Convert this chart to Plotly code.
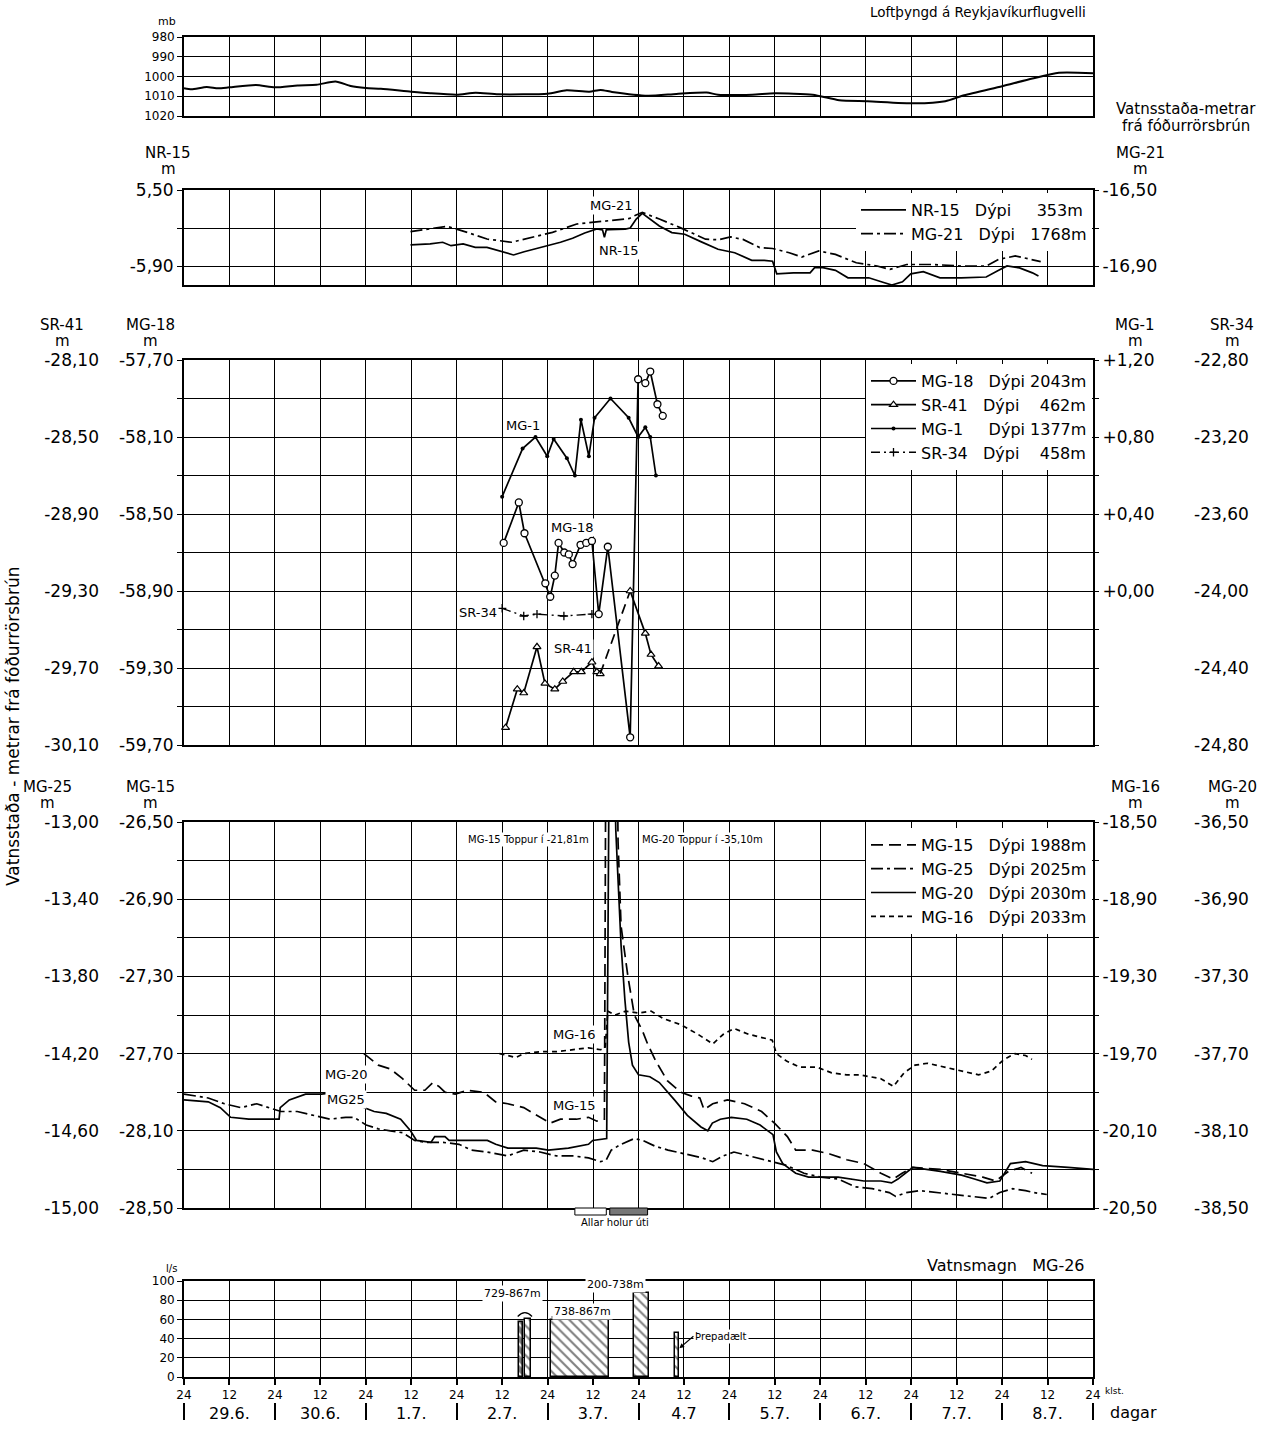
import plotly.graph_objects as go

W, H = 1275, 1429
FONT = "DejaVu Sans, Roboto, Arial, sans-serif"

# ---------------- time axis ----------------
HOUR_TICKS = [0, 12, 24, 36, 48, 60, 72, 84, 96, 108, 120, 132, 144, 156, 168, 180, 192, 204, 216, 228, 240]
HOUR_LABELS = ["24", "12", "24", "12", "24", "12", "24", "12", "24", "12", "24",
               "12", "24", "12", "24", "12", "24", "12", "24", "12", "24"]
DAY_MIDS = [12, 36, 60, 84, 108, 132, 156, 180, 204, 228]
DAY_LABELS = ["29.6.", "30.6.", "1.7.", "2.7.", "3.7.", "4.7", "5.7.", "6.7.", "7.7.", "8.7."]
DAY_EDGES = [0, 24, 48, 72, 96, 120, 144, 168, 192, 216, 240]

# ---------------- panel 1: air pressure ----------------
PRESS_TICKS = [980, 990, 1000, 1010, 1020]
PRESS_LABELS = ["980", "990", "1000", "1010", "1020"]
PRESS_H = [0, 2, 6, 9, 12, 19, 24, 30, 35, 40, 44, 48, 52, 60, 65, 72, 77, 83, 96, 101,
           107, 110, 113, 122.5, 130, 138, 141, 150, 156, 166, 173, 180.5, 193, 201, 206,
           216, 224, 231, 240]
PRESS_MB = [1006, 1006.5, 1005.3, 1006, 1005.5, 1004.3, 1005.5, 1004.5, 1004.2, 1002.5,
            1004.8, 1005.8, 1006.2, 1007.7, 1008.5, 1009.2, 1008.2, 1009, 1008.7, 1007,
            1007.7, 1006.8, 1007.8, 1009.7, 1008.8, 1008.1, 1009.2, 1009.2, 1008.5, 1009.2,
            1012, 1012.5, 1013.6, 1012.5, 1009.5, 1004.9, 1001, 998.1, 998.3]

# ---------------- panel 2: NR-15 / MG-21 ----------------
NR15_TICKS = [-5.5, -5.7, -5.9]
NR15_LABELS = ["5,50", "", "-5,90"]
MG21_TICKS = [-16.5, -16.7, -16.9]
MG21_LABELS = ["-16,50", "", "-16,90"]
NR15_H = [59.8, 65, 68.3, 70.5, 73.7, 76.9, 80, 83.3, 87, 89.8,
          91.9, 95, 99.4, 102.6, 105.8, 109, 110.5, 111, 111.5, 112.2,
          116.5, 117.8, 119.4, 121, 122.8, 125.5, 128.8, 132.2, 136.6, 141,
          145.4, 149.9, 153.2, 155.4, 156.5, 160.9, 165.3, 166.5, 168.7, 172,
          175.3, 180.8, 184.1, 186.9, 189.7, 191.9, 195.2, 199.6, 205.2, 211.8,
          215.1, 217.3, 220.6, 224, 225.6]
NR15_M = [-5.789, -5.784, -5.775, -5.793, -5.784, -5.802, -5.802, -5.819, -5.842, -5.825,
          -5.814, -5.80, -5.775, -5.754, -5.726, -5.705, -5.71, -5.749, -5.71, -5.709,
          -5.706, -5.70, -5.653, -5.623, -5.648, -5.689, -5.724, -5.733, -5.773, -5.812,
          -5.830, -5.870, -5.870, -5.875, -5.941, -5.936, -5.936, -5.909, -5.909, -5.923,
          -5.962, -5.962, -5.983, -6.0, -5.983, -5.941, -5.930, -5.962, -5.962, -5.958,
          -5.923, -5.90, -5.91, -5.936, -5.953]
MG21_H = [59.8, 65, 69.4, 74.8, 80, 86.5, 91.9, 97.3, 103.7, 109,
          113.3, 117.6, 118.9, 121, 125.5, 131, 137.7, 141, 144.3, 147.6,
          152, 155.4, 159.8, 163.1, 167.6, 172, 177.5, 183, 186.4, 190.8,
          197.4, 205.2, 211.8, 215.1, 219.5, 224, 226.2]
MG21_M = [-16.719, -16.702, -16.691, -16.723, -16.758, -16.775, -16.749, -16.723, -16.679, -16.667,
          -16.656, -16.65, -16.636, -16.618, -16.653, -16.698, -16.759, -16.762, -16.747, -16.76,
          -16.803, -16.808, -16.830, -16.853, -16.821, -16.839, -16.883, -16.90, -16.918, -16.892,
          -16.892, -16.90, -16.90, -16.865, -16.847, -16.865, -16.877]

# ---------------- panel 3: MG-18 / SR-41 / MG-1 / SR-34 ----------------
MG18_TICKS = [-57.7, -57.9, -58.1, -58.3, -58.5, -58.7, -58.9, -59.1, -59.3, -59.5, -59.7]
MG18_LABELS = ["-57,70", "", "-58,10", "", "-58,50", "", "-58,90", "", "-59,30", "", "-59,70"]
SR41_TICKS = [-28.1, -28.5, -28.9, -29.3, -29.7, -30.1]
SR41_LABELS = ["-28,10", "-28,50", "-28,90", "-29,30", "-29,70", "-30,10"]
MG1_TICKS = [1.2, 1.0, 0.8, 0.6, 0.4, 0.2, 0.0, -0.2, -0.4, -0.6, -0.8]
MG1_LABELS = ["+1,20", "", "+0,80", "", "+0,40", "", "+0,00", "", "", "", ""]
SR34_TICKS = [-22.8, -23.2, -23.6, -24.0, -24.4, -24.8]
SR34_LABELS = ["-22,80", "-23,20", "-23,60", "-24,00", "-24,40", "-24,80"]

MG18_H = [84.4, 88.4, 89.9, 95.4, 96.7, 97.9, 98.9, 100.4, 101.6, 102.6, 104.7,
          106.2, 107.7, 109.5, 111.9, 117.8, 119.9, 121.8, 123.1, 125.0, 126.4]
MG18_M = [-58.65, -58.44, -58.60, -58.86, -58.93, -58.82, -58.65, -58.70, -58.71, -58.76, -58.66,
          -58.65, -58.64, -59.02, -58.67, -59.66, -57.80, -57.82, -57.76, -57.93, -57.99]
SR41_H = [84.9, 88, 89.7, 93.2, 95.3, 97.9, 100, 102.9, 104.9, 107.7, 109, 109.9,
          117.8, 121.8, 123.3, 125.3]
SR41_M = [-30.01, -29.81, -29.83, -29.59, -29.78, -29.81, -29.77, -29.72, -29.72, -29.67, -29.72,
          -29.73, -29.30, -29.52, -29.63, -29.69]
MG1_H = [84, 89.4, 92.8, 95.9, 97.6, 101.1, 103.2, 104.8, 106.9, 108.4, 112.6, 117.4,
         119.9, 121.8, 123.1, 124.6]
MG1_M = [0.49, 0.74, 0.80, 0.70, 0.79, 0.69, 0.60, 0.89, 0.70, 0.90, 1.00, 0.90,
         0.80, 0.85, 0.80, 0.60]
SR34_H = [84, 89.7, 93.2, 100.3, 107.7]
SR34_M = [-24.09, -24.13, -24.12, -24.13, -24.12]

# ---------------- panel 4: MG-15 / MG-25 / MG-20 / MG-16 ----------------
MG15_TICKS = [-26.5, -26.7, -26.9, -27.1, -27.3, -27.5, -27.7, -27.9, -28.1, -28.3, -28.5]
MG15_LABELS = ["-26,50", "", "-26,90", "", "-27,30", "", "-27,70", "", "-28,10", "", "-28,50"]
MG25_TICKS = [-13.0, -13.4, -13.8, -14.2, -14.6, -15.0]
MG25_LABELS = ["-13,00", "-13,40", "-13,80", "-14,20", "-14,60", "-15,00"]
MG16_TICKS = [-18.5, -18.7, -18.9, -19.1, -19.3, -19.5, -19.7, -19.9, -20.1, -20.3, -20.5]
MG16_LABELS = ["-18,50", "", "-18,90", "", "-19,30", "", "-19,70", "", "-20,10", "", "-20,50"]
MG20_TICKS = [-36.5, -36.9, -37.3, -37.7, -38.1, -38.5]
MG20_LABELS = ["-36,50", "-36,90", "-37,30", "-37,70", "-38,10", "-38,50"]

MG15_H = [47.5, 51.3, 54.5, 57.7, 60.9, 63.6, 65.7, 67.3, 68.9, 71.6, 74.8, 79.1, 82.3,
          85.5, 89.7, 94, 96.7, 99.4, 103.6, 106.8, 109, 110.3, 111.0,
          112.2,
          114.6, 115.4, 117.2, 118.9, 121.0, 122.4, 124.6, 127.6, 131.1, 134.0,
          136.2, 137.3, 139.6, 143.5, 148.0, 152.5, 155.9, 159.3, 161.5, 166.0,
          170.5, 175.0, 179.5, 184.0, 187.3, 189.6, 192.4, 199.7, 205.3, 210.9,
          214.3, 217.7, 221.0, 223.9]
MG15_M = [-27.70, -27.76, -27.78, -27.83, -27.89, -27.89, -27.85, -27.87, -27.90, -27.91, -27.89,
          -27.90, -27.95, -27.96, -27.98, -28.03, -28.06, -28.04, -28.04, -28.03, -28.05, -28.04, -28.04,
          -21.81,
          -26.60, -27.04, -27.30, -27.50, -27.58, -27.65, -27.74, -27.84, -27.90, -27.92,
          -27.93, -27.99, -27.96, -27.94, -27.96, -28.00, -28.06, -28.13, -28.20, -28.20,
          -28.22, -28.25, -28.27, -28.32, -28.35, -28.32, -28.29, -28.30, -28.32, -28.34,
          -28.36, -28.31, -28.29, -28.32]

MG25_H = [0, 6.4, 10.7, 15, 19.2, 22.4, 25.6, 29.9, 34.2, 38.5,
          42.7, 44.9, 48.1, 51.3, 54.5, 57.7, 60.9, 64.1, 68.4, 72.6,
          75.9, 80.1, 85.5, 89.7, 94, 98.3, 102.6, 106.8, 110, 111.5,
          112.8, 115.4, 118.9, 121.1, 124.4, 127.8, 132.3, 136.8, 139.6, 142.4,
          145.2, 149.1, 154.8, 159.2, 163.7, 168.2, 172.7, 177.2, 181.7, 186.2,
          187.9, 190.7, 194.1, 198.6, 203.1, 208.7, 212.6, 215.4, 218.8, 222.2,
          224.4, 227.8]
MG25_M = [-14.41, -14.43, -14.46, -14.48, -14.46, -14.48, -14.50, -14.50, -14.52, -14.54,
          -14.53, -14.53, -14.57, -14.59, -14.60, -14.61, -14.65, -14.66, -14.66, -14.67,
          -14.70, -14.71, -14.73, -14.70, -14.71, -14.73, -14.73, -14.74, -14.76, -14.75,
          -14.70, -14.67, -14.64, -14.65, -14.68, -14.70, -14.72, -14.74, -14.76, -14.73,
          -14.71, -14.73, -14.76, -14.78, -14.82, -14.84, -14.85, -14.89, -14.90, -14.92,
          -14.94, -14.92, -14.91, -14.92, -14.93, -14.94, -14.95, -14.92, -14.90, -14.91,
          -14.92, -14.93]

MG20_H = [0, 6.4, 9.6, 12.3, 17.1, 25.1, 25.4, 27.8, 32.1, 36.3,
          40.6, 43.8, 47.5, 50.2, 53.4, 57.2, 59.8, 61.4, 65.2, 66.2,
          68.9, 70.0, 73.7, 80.1, 82.3, 85.5, 93.0, 96.2, 101.5, 106.8,
          107.9, 111.6,
          112.6,
          114.0, 114.6, 115.4, 116.4, 117.4, 118.4, 120.0, 123.0, 125.5, 129.5,
          132.9, 136.5, 138.3, 139.5, 141.6, 144.5, 148.6, 152.1, 154.0, 155.5,
          156.4, 158.1, 161.5, 164.9, 172.7, 179.5, 184.0, 186.8, 188.5, 192.4,
          199.7, 205.3, 208.7, 212.0, 215.4, 218.2, 222.2, 226.7, 233.4, 240]
MG20_M = [-37.94, -37.95, -37.98, -38.03, -38.04, -38.04, -37.98, -37.94, -37.91, -37.91,
          -37.90, -37.90, -37.98, -38.00, -38.01, -38.04, -38.10, -38.15, -38.16, -38.13,
          -38.13, -38.15, -38.15, -38.15, -38.17, -38.19, -38.19, -38.20, -38.19, -38.17,
          -38.15, -38.14,
          -35.10,
          -36.54, -36.80, -37.14, -37.42, -37.64, -37.76, -37.81, -37.82, -37.85, -37.94,
          -38.02, -38.08, -38.10, -38.06, -38.04, -38.03, -38.04, -38.07, -38.10, -38.12,
          -38.21, -38.27, -38.32, -38.34, -38.34, -38.36, -38.36, -38.37, -38.35, -38.29,
          -38.31, -38.33, -38.35, -38.37, -38.36, -38.27, -38.26, -38.28, -38.29, -38.30]

MG16_H = [83.3, 87.6, 89.7, 94.0, 98.3, 102.6, 106.8, 110.0, 111.2, 111.9,
          113.8, 116.6, 120.0, 123.3, 126.7, 131.2, 135.7, 139.6, 142.4, 145.2,
          149.1, 155.3, 156.4, 159.2, 162.6, 167.1, 171.0, 175.0, 178.3, 184.0,
          187.3, 190.1, 193.0, 196.3, 200.8, 205.3, 209.8, 213.2, 216.5, 219.4,
          222.2, 223.9]
MG16_M = [-19.70, -19.72, -19.70, -19.69, -19.69, -19.68, -19.67, -19.68, -19.67, -19.48,
          -19.50, -19.48, -19.49, -19.48, -19.52, -19.55, -19.60, -19.65, -19.60, -19.57,
          -19.60, -19.63, -19.70, -19.74, -19.77, -19.77, -19.80, -19.81, -19.81, -19.83,
          -19.87, -19.80, -19.76, -19.75, -19.77, -19.79, -19.81, -19.79, -19.73, -19.70,
          -19.71, -19.73]

# ---------------- panel 5: flow MG-26 ----------------
FLOW_TICKS = [0, 20, 40, 60, 80, 100]
FLOW_LABELS = ["0", "20", "40", "60", "80", "100"]
FLOW_START = [88.4, 89.9, 97.0, 118.7, 129.6]
FLOW_END = [89.6, 91.6, 112.1, 122.8, 130.8]
FLOW_LPS = [57, 60, 59, 88, 46]

# ---------------- styles ----------------
BAR_SOLIDITY = [0.75, 0.3, 0.3, 0.3, 0.3]
LINE_W = 1.7
TICKFONT = dict(family=FONT, size=17, color="black")


def px_x(x):
    return x / W


def px_y(y):
    return 1 - y / H


XDOM = [px_x(184), px_x(1093)]

fig = go.Figure()

# panel 1
fig.add_trace(go.Scatter(x=PRESS_H, y=PRESS_MB, mode="lines", xaxis="x", yaxis="y",
                         line=dict(color="black", width=2, shape="spline", smoothing=0.6),
                         showlegend=False))

# panel 2
fig.add_trace(go.Scatter(x=NR15_H, y=NR15_M, mode="lines", xaxis="x2", yaxis="y2",
                         name="NR-15\u00a0\u00a0\u00a0Dýpi\u00a0\u00a0\u00a0\u00a0\u00a0353m",
                         legend="legend", line=dict(color="black", width=LINE_W)))
fig.add_trace(go.Scatter(x=MG21_H, y=MG21_M, mode="lines", xaxis="x2", yaxis="y6",
                         name="MG-21\u00a0\u00a0\u00a0Dýpi\u00a0\u00a0\u00a01768m",
                         legend="legend",
                         line=dict(color="black", width=LINE_W, dash="12px,4px,3px,4px")))

# panel 3
fig.add_trace(go.Scatter(x=MG18_H, y=MG18_M, mode="lines+markers", xaxis="x3", yaxis="y3",
                         name="MG-18\u00a0\u00a0\u00a0Dýpi\u00a02043m", legend="legend2",
                         line=dict(color="black", width=LINE_W),
                         marker=dict(symbol="circle", size=7, color="white",
                                     line=dict(color="black", width=1.3))))
fig.add_trace(go.Scatter(x=SR41_H[:12], y=SR41_M[:12], mode="lines+markers", xaxis="x3", yaxis="y7",
                         name="SR-41\u00a0\u00a0\u00a0Dýpi\u00a0\u00a0\u00a0\u00a0462m", legend="legend2",
                         legendgroup="sr41",
                         line=dict(color="black", width=LINE_W),
                         marker=dict(symbol="triangle-up", size=7, color="white",
                                     line=dict(color="black", width=1.2))))
fig.add_trace(go.Scatter(x=SR41_H[11:13], y=SR41_M[11:13], mode="lines", xaxis="x3", yaxis="y7",
                         showlegend=False, legendgroup="sr41",
                         line=dict(color="black", width=LINE_W, dash="10px,6px")))
fig.add_trace(go.Scatter(x=SR41_H[12:], y=SR41_M[12:], mode="lines+markers", xaxis="x3", yaxis="y7",
                         showlegend=False, legendgroup="sr41",
                         line=dict(color="black", width=LINE_W),
                         marker=dict(symbol="triangle-up", size=7, color="white",
                                     line=dict(color="black", width=1.2))))
fig.add_trace(go.Scatter(x=MG1_H, y=MG1_M, mode="lines+markers", xaxis="x3", yaxis="y8",
                         name="MG-1\u00a0\u00a0\u00a0\u00a0\u00a0Dýpi\u00a01377m", legend="legend2",
                         line=dict(color="black", width=LINE_W),
                         marker=dict(symbol="circle", size=4, color="black")))
fig.add_trace(go.Scatter(x=SR34_H, y=SR34_M, mode="lines+markers", xaxis="x3", yaxis="y9",
                         name="SR-34\u00a0\u00a0\u00a0Dýpi\u00a0\u00a0\u00a0\u00a0458m", legend="legend2",
                         line=dict(color="black", width=1.4, dash="9px,4px,2px,4px"),
                         marker=dict(symbol="cross-thin", size=6, color="black",
                                     line=dict(color="black", width=1.3))))

# panel 4
fig.add_trace(go.Scatter(x=MG15_H, y=MG15_M, mode="lines", xaxis="x4", yaxis="y4",
                         name="MG-15\u00a0\u00a0\u00a0Dýpi\u00a01988m", legend="legend3",
                         line=dict(color="black", width=LINE_W, dash="12px,6px")))
fig.add_trace(go.Scatter(x=MG25_H, y=MG25_M, mode="lines", xaxis="x4", yaxis="y10",
                         name="MG-25\u00a0\u00a0\u00a0Dýpi\u00a02025m", legend="legend3",
                         line=dict(color="black", width=LINE_W, dash="12px,4px,3px,4px")))
fig.add_trace(go.Scatter(x=MG20_H, y=MG20_M, mode="lines", xaxis="x4", yaxis="y12",
                         name="MG-20\u00a0\u00a0\u00a0Dýpi\u00a02030m", legend="legend3",
                         line=dict(color="black", width=LINE_W)))
fig.add_trace(go.Scatter(x=MG16_H, y=MG16_M, mode="lines", xaxis="x4", yaxis="y11",
                         name="MG-16\u00a0\u00a0\u00a0Dýpi\u00a02033m", legend="legend3",
                         line=dict(color="black", width=LINE_W, dash="5px,4px")))

# panel 5
fig.add_trace(go.Bar(x=[(s + e) / 2 for s, e in zip(FLOW_START, FLOW_END)], y=FLOW_LPS,
                     width=[e - s for s, e in zip(FLOW_START, FLOW_END)],
                     xaxis="x5", yaxis="y5", showlegend=False,
                     marker=dict(color="white", line=dict(color="black", width=1.5),
                                 pattern=dict(shape="\\", fgcolor="black", bgcolor="white",
                                              size=7, solidity=BAR_SOLIDITY))))
# empty trace so that the day-label axis is drawn
fig.add_trace(go.Scatter(x=DAY_MIDS, y=[None] * len(DAY_MIDS), mode="lines",
                         xaxis="x6", yaxis="y5", showlegend=False, hoverinfo="skip"))

# ---------------- axes ----------------
xcommon = dict(range=[0, 240], domain=XDOM, tickmode="array", tickvals=HOUR_TICKS,
               showgrid=True, gridcolor="black", gridwidth=1.2, zeroline=False,
               showline=True, linecolor="black", linewidth=1.8, mirror=True,
               ticks="", showticklabels=False, automargin=False)
ycommon = dict(showgrid=True, gridcolor="black", gridwidth=1.2, zeroline=False,
               showline=True, linecolor="black", linewidth=1.8, mirror=True,
               tickmode="array", ticks="outside", ticklen=5, tickwidth=1.3,
               tickcolor="black", tickfont=TICKFONT, automargin=False)
yover = dict(showgrid=False, zeroline=False, showline=False, tickmode="array",
             tickfont=TICKFONT, tickcolor="black", tickwidth=1.3, automargin=False)

layout = dict(
    width=W, height=H, autosize=False,
    margin=dict(l=0, r=0, t=0, b=0, pad=0, autoexpand=False),
    paper_bgcolor="white", plot_bgcolor="white",
    font=dict(family=FONT, color="black"),
    bargap=0,
    xaxis=dict(xcommon, anchor="y"),
    xaxis2=dict(xcommon, anchor="y2"),
    xaxis3=dict(xcommon, anchor="y3"),
    xaxis4=dict(xcommon, anchor="y4"),
    xaxis5=dict(xcommon, anchor="y5", showticklabels=True, ticktext=HOUR_LABELS,
                ticks="outside", ticklen=6, tickwidth=1.5, tickcolor="black",
                tickfont=dict(family=FONT, size=12, color="black")),
    xaxis6=dict(range=[0, 240], domain=XDOM, overlaying="x5", anchor="free",
                position=px_y(1402), side="bottom", tickmode="array",
                tickvals=DAY_MIDS, ticktext=DAY_LABELS, ticks="", showgrid=False,
                showline=False, zeroline=False, automargin=False,
                tickfont=dict(family=FONT, size=16, color="black"),
                minor=dict(tickmode="array", tickvals=DAY_EDGES, ticks="outside",
                           ticklen=17, tickwidth=1.5, tickcolor="black", showgrid=False)),
    yaxis=dict(ycommon, domain=[px_y(116), px_y(37)], anchor="x", range=[1020, 980],
               tickvals=PRESS_TICKS, ticktext=PRESS_LABELS,
               tickfont=dict(family=FONT, size=12, color="black")),
    yaxis2=dict(ycommon, domain=[px_y(285), px_y(190)], anchor="x2", range=[-6.0, -5.5],
                tickvals=NR15_TICKS, ticktext=NR15_LABELS),
    yaxis3=dict(ycommon, domain=[px_y(745), px_y(360)], anchor="x3", range=[-59.7, -57.7],
                tickvals=MG18_TICKS, ticktext=MG18_LABELS),
    yaxis4=dict(ycommon, domain=[px_y(1208), px_y(822)], anchor="x4", range=[-28.5, -26.5],
                tickvals=MG15_TICKS, ticktext=MG15_LABELS),
    yaxis5=dict(ycommon, domain=[px_y(1377), px_y(1281)], anchor="x5", range=[0, 100],
                tickvals=FLOW_TICKS, ticktext=FLOW_LABELS,
                tickfont=dict(family=FONT, size=12, color="black")),
    yaxis6=dict(yover, overlaying="y2", anchor="x2", side="right", range=[-17.0, -16.5],
                tickvals=MG21_TICKS, ticktext=MG21_LABELS, ticks="outside", ticklen=5),
    yaxis7=dict(yover, overlaying="y3", anchor="free", position=px_x(99), side="left",
                range=[-30.1, -28.1], tickvals=SR41_TICKS, ticktext=SR41_LABELS, ticks=""),
    yaxis8=dict(yover, overlaying="y3", anchor="x3", side="right", range=[-0.8, 1.2],
                tickvals=MG1_TICKS, ticktext=MG1_LABELS, ticks="outside", ticklen=5),
    yaxis9=dict(yover, overlaying="y3", anchor="free", position=px_x(1193), side="right",
                range=[-24.8, -22.8], tickvals=SR34_TICKS, ticktext=SR34_LABELS, ticks=""),
    yaxis10=dict(yover, overlaying="y4", anchor="free", position=px_x(99), side="left",
                 range=[-15.0, -13.0], tickvals=MG25_TICKS, ticktext=MG25_LABELS, ticks=""),
    yaxis11=dict(yover, overlaying="y4", anchor="x4", side="right", range=[-20.5, -18.5],
                 tickvals=MG16_TICKS, ticktext=MG16_LABELS, ticks="outside", ticklen=5),
    yaxis12=dict(yover, overlaying="y4", anchor="free", position=px_x(1193), side="right",
                 range=[-38.5, -36.5], tickvals=MG20_TICKS, ticktext=MG20_LABELS, ticks=""),
)

leg_common = dict(bgcolor="white", borderwidth=0, xanchor="right", yanchor="top",
                  x=px_x(1092), font=dict(family=FONT, size=16, color="black"),
                  tracegroupgap=0, itemwidth=45, traceorder="normal")
layout["legend"] = dict(leg_common, y=px_y(193))
layout["legend2"] = dict(leg_common, y=px_y(364))
layout["legend3"] = dict(leg_common, y=px_y(828))


def lab(text, x, y, size=15, **kw):
    d = dict(text=text, x=px_x(x), y=px_y(y), xref="paper", yref="paper",
             showarrow=False, font=dict(family=FONT, size=size, color="black"),
             xanchor="center", yanchor="middle")
    d.update(kw)
    return d


def dlab(text, x, y, xr, yr, size=13, **kw):
    d = dict(text=text, x=x, y=y, xref=xr, yref=yr, showarrow=False,
             font=dict(family=FONT, size=size, color="black"), bgcolor="white", borderpad=1,
             xanchor="center", yanchor="middle")
    d.update(kw)
    return d


HEADERS = [("NR-15", 168, 153), ("MG-21", 1140, 153),
           ("SR-41", 62, 325), ("MG-18", 150, 325), ("MG-1", 1135, 325), ("SR-34", 1232, 325),
           ("MG-25", 47, 787), ("MG-15", 150, 787), ("MG-16", 1135, 787), ("MG-20", 1232, 787)]

annotations = [
    lab("mb", 167, 21, 11),
    lab("Loftþyngd á Reykjavíkurflugvelli", 1088, 12, 13.5, xanchor="right"),
    lab("Vatnsstaða-metrar", 1186, 109, 15),
    lab("frá fóðurrörsbrún", 1186, 126, 15),
    lab("Vatnsstaða - metrar frá fóðurrörsbrún", 13, 727, 17, textangle=-90),
    lab("l/s", 171, 1268, 10),
    lab("Vatnsmagn\u00a0\u00a0\u00a0MG-26", 1006, 1265, 16),
    lab("klst.", 1103, 1391, 9, xanchor="left"),
    lab("dagar", 1108, 1412, 16, xanchor="left"),
    lab("Allar holur úti", 615, 1222, 10),
    dlab("MG-21", 113, -5.584, "x2", "y2"),
    dlab("NR-15", 114.6, -5.816, "x2", "y2"),
    dlab("MG-1", 89.5, -58.04, "x3", "y3"),
    dlab("MG-18", 102.7, -58.57, "x3", "y3"),
    dlab("SR-34", 77.6, -59.01, "x3", "y3"),
    dlab("SR-41", 102.7, -59.20, "x3", "y3"),
    dlab("MG-16", 103.2, -27.60, "x4", "y4"),
    dlab("MG-15", 103.2, -27.97, "x4", "y4"),
    dlab("MG-20", 42.8, -27.81, "x4", "y4"),
    dlab("MG25", 42.8, -27.94, "x4", "y4"),
    dlab("MG-15 Toppur í -21,81m", 91, -26.59, "x4", "y4", size=10),
    dlab("MG-20 Toppur í -35,10m", 137, -26.59, "x4", "y4", size=10),
    dlab("729-867m", 86.6, 86.5, "x5", "y5", size=11),
    dlab("738-867m", 105.3, 68.5, "x5", "y5", size=11),
    dlab("200-738m", 113.8, 96, "x5", "y5", size=11),
    dict(text="Þrepadælt", x=FLOW_END[4], y=30, xref="x5", yref="y5",
         ax=14, ay=-12, axref="pixel", ayref="pixel", showarrow=True, arrowhead=2,
         arrowsize=0.8, arrowwidth=1.2, arrowcolor="black", xanchor="left",
         font=dict(family=FONT, size=10, color="black"), bgcolor="white"),
]
for name, hx, hy in HEADERS:
    annotations.append(lab(name, hx, hy, 15))
    annotations.append(lab("m", hx, hy + 16, 15))
layout["annotations"] = annotations

shapes = [
    dict(type="rect", xref="x4", yref="paper", x0=103.2, x1=111.5,
         y0=px_y(1215), y1=px_y(1208), line=dict(color="black", width=1), fillcolor="white"),
    dict(type="rect", xref="x4", yref="paper", x0=112.4, x1=122.4,
         y0=px_y(1215), y1=px_y(1208), line=dict(color="black", width=1), fillcolor="#777"),
    dict(type="path", xref="x5", yref="y5",
         path=f"M {FLOW_START[0]-0.3},63 Q {(FLOW_START[0]+FLOW_END[1])/2},71 {FLOW_END[1]+0.3},63",
         line=dict(color="black", width=1.2)),
    dict(type="line", xref="x5", yref="y5", x0=FLOW_START[2], x1=FLOW_END[2], y0=62.5, y1=62.5,
         line=dict(color="black", width=1.2)),
]
layout["shapes"] = shapes

fig.update_layout(**layout)
fig.write_html("out.html")
